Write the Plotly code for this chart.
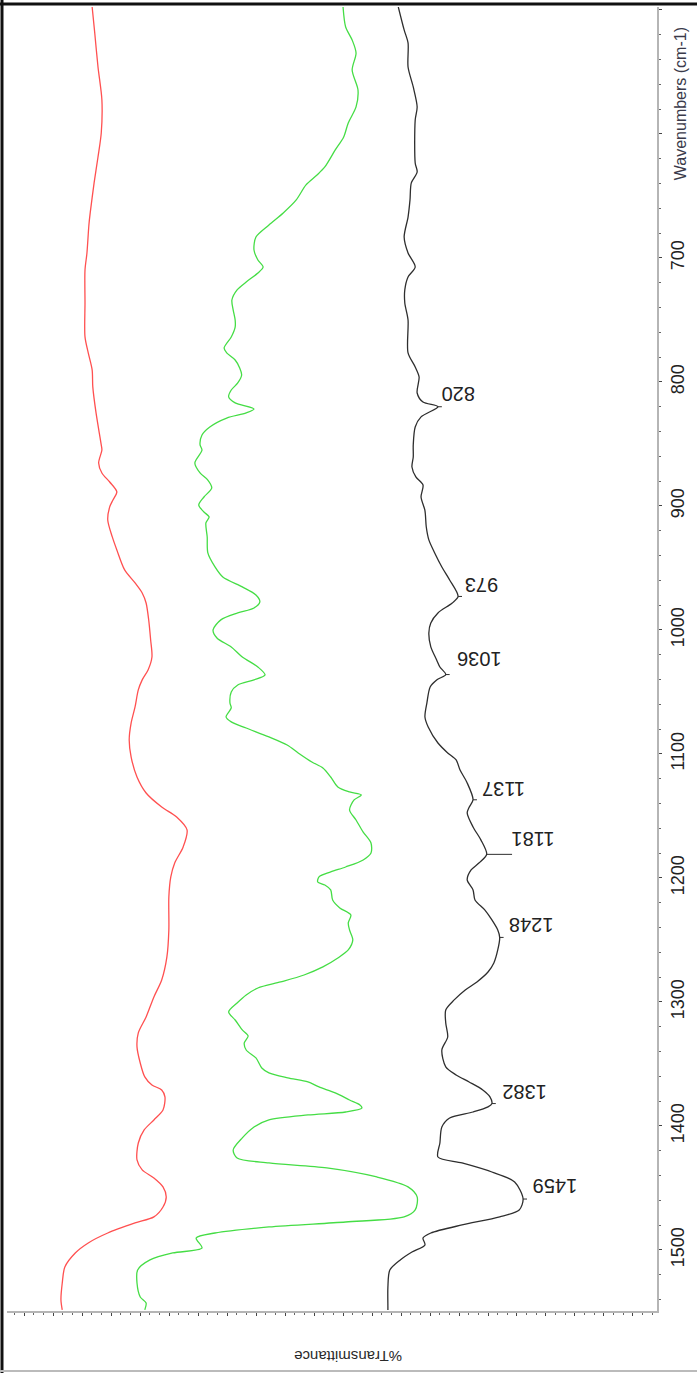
import numpy as np
import plotly.graph_objects as go

# FTIR spectra (wavenumber in cm-1, %T offset-stacked), drawn rotated:
# wavenumber runs vertically on the right, %T horizontally (increasing to the left)

red_wn = [497.6, 518.6, 546.0, 572.6, 599.2, 618.6, 639.5, 663.7, 673.4, 696.0,
          709.7, 736.3, 763.7, 776.6, 790.3, 804.0, 825.0, 850.8, 854.9, 865.3,
          873.4, 880.7, 888.7, 895.2, 900.8, 911.3, 925.0, 935.5, 951.6, 962.1,
          970.2, 978.3, 992.0, 1008.1, 1021.8, 1032.3, 1040.3, 1048.4, 1062.1, 1075.0,
          1088.7, 1102.5, 1118.6, 1131.5, 1142.8, 1150.9, 1161.3, 1175.0, 1188.0, 1199.2,
          1215.4, 1242.0, 1263.7, 1282.3, 1296.0, 1312.2, 1325.0, 1336.3, 1349.3, 1360.5,
          1367.0, 1371.0, 1376.6, 1387.2, 1395.2, 1403.3, 1413.8, 1427.5, 1435.5, 1442.0,
          1449.2, 1457.3, 1465.4, 1473.4, 1478.3, 1486.4, 1494.4, 1502.5, 1513.8, 1526.7,
          1540.4, 1548.4]
red_t = [86.9, 86.5, 86.0, 85.4, 85.5, 86.0, 86.6, 87.2, 87.4, 87.7,
         88.0, 88.0, 88.0, 87.5, 86.9, 86.8, 86.3, 85.5, 85.4, 85.9,
         85.4, 84.2, 83.1, 83.7, 84.2, 84.5, 83.8, 83.1, 81.9, 80.3,
         79.2, 78.6, 78.2, 77.9, 77.7, 78.3, 79.2, 79.8, 80.3, 80.9,
         81.2, 80.9, 80.0, 78.6, 76.2, 73.9, 72.3, 72.9, 74.2, 74.8,
         75.1, 75.1, 75.4, 76.2, 77.4, 78.6, 79.8, 80.0, 79.5, 78.8,
         77.7, 76.2, 75.7, 76.0, 77.4, 78.9, 79.8, 80.0, 79.2, 77.4,
         76.0, 75.5, 76.0, 77.4, 80.3, 84.5, 87.5, 89.5, 91.1, 91.5,
         91.7, 91.5]

green_wn = [497.6, 513.7, 524.2, 534.7, 548.4, 564.5, 578.2, 591.1, 602.4, 612.9,
            626.6, 633.1, 641.1, 653.2, 663.7, 673.4, 683.1, 693.6, 701.6, 707.3,
            712.1, 719.4, 725.8, 733.9, 742.0, 750.0, 755.7, 763.7, 772.6, 776.6,
            782.3, 788.7, 794.4, 800.8, 806.5, 812.1, 816.9, 821.8, 825.0, 829.1,
            836.3, 842.8, 850.8, 854.9, 865.3, 873.4, 879.1, 885.5, 892.8, 899.2,
            904.9, 908.9, 913.7, 925.0, 937.9, 949.2, 957.3, 965.3, 971.8, 977.4,
            982.3, 986.3, 991.9, 1000.0, 1006.5, 1013.7, 1021.8, 1029.9, 1036.3, 1040.3,
            1044.4, 1050.0, 1058.9, 1062.9, 1070.2, 1074.2, 1079.1, 1086.3, 1092.8, 1099.2,
            1106.5, 1111.3, 1118.6, 1126.7, 1130.7, 1133.1, 1137.1, 1145.2, 1153.3, 1163.0,
            1171.8, 1179.9, 1185.5, 1191.2, 1195.2, 1199.2, 1203.3, 1205.7, 1209.7, 1217.8,
            1224.2, 1229.9, 1236.3, 1242.0, 1250.0, 1258.1, 1264.6, 1271.8, 1278.3, 1283.9,
            1288.8, 1294.4, 1300.9, 1308.1, 1314.6, 1322.6, 1327.5, 1333.1, 1338.8, 1345.2,
            1353.3, 1357.3, 1361.3, 1364.6, 1368.6, 1373.4, 1379.1, 1383.1, 1385.6, 1388.8,
            1391.2, 1395.2, 1400.9, 1409.7, 1419.4, 1425.9, 1429.9, 1433.9, 1441.2, 1449.2,
            1457.3, 1467.8, 1473.4, 1477.5, 1481.5, 1486.4, 1490.4, 1498.5, 1502.5, 1508.1,
            1516.2, 1526.7, 1538.0, 1542.8, 1548.4]
green_t = [48.3, 47.9, 46.9, 46.3, 46.9, 46.0, 46.3, 47.5, 48.2, 49.5,
           51.1, 52.3, 54.0, 55.5, 57.5, 59.7, 61.7, 62.0, 61.4, 60.6,
           61.4, 63.2, 64.6, 65.4, 65.2, 64.9, 64.9, 65.5, 66.6, 66.2,
           64.9, 64.2, 63.9, 64.5, 65.5, 65.9, 64.9, 62.0, 63.2, 66.2,
           68.8, 70.0, 70.3, 70.0, 71.1, 70.3, 69.1, 68.5, 69.7, 70.5,
           69.7, 68.9, 69.4, 69.2, 69.1, 68.0, 66.8, 63.8, 61.7, 61.1,
           62.0, 64.5, 67.1, 68.3, 67.7, 65.5, 63.8, 61.4, 60.3, 62.0,
           64.5, 65.5, 65.7, 65.5, 66.3, 65.5, 63.2, 59.7, 56.9, 55.2,
           53.1, 51.4, 50.2, 49.1, 47.3, 45.5, 46.6, 47.3, 46.3, 45.2,
           44.0, 44.0, 45.2, 47.9, 50.2, 52.0, 52.2, 51.1, 50.2, 49.9,
           48.8, 47.1, 47.5, 47.3, 46.8, 47.5, 49.1, 51.4, 54.3, 57.9,
           61.4, 63.2, 64.6, 65.9, 64.9, 63.8, 62.9, 63.5, 63.2, 61.7,
           60.8, 59.7, 56.8, 53.7, 52.0, 49.5, 47.3, 45.7, 45.4, 47.9,
           53.7, 59.7, 62.0, 63.8, 65.2, 64.6, 59.7, 50.8, 43.1, 38.3,
           36.9, 37.2, 38.9, 47.9, 59.7, 68.0, 70.9, 70.0, 74.5, 78.0,
           79.9, 80.0, 79.5, 78.6, 78.8]

black_wn = [497.6, 516.1, 526.6, 546.0, 562.1, 578.2, 588.7, 623.4, 630.7, 639.5,
            653.2, 667.0, 683.1, 696.0, 707.3, 715.3, 725.8, 736.3, 750.0, 776.6,
            787.9, 796.0, 808.9, 816.2, 820.0, 828.2, 836.3, 850.8, 860.5, 868.6,
            876.6, 883.1, 892.8, 903.7, 916.8, 927.4, 937.9, 949.2, 959.7, 973.0,
            978.3, 986.3, 994.4, 1002.4, 1013.7, 1024.2, 1029.9, 1036.0, 1040.3, 1046.0,
            1058.9, 1070.2, 1078.3, 1091.2, 1099.2, 1104.9, 1113.0, 1123.4, 1137.0, 1143.0,
            1147.6, 1158.9, 1169.3, 1181.0, 1188.0, 1193.6, 1201.6, 1209.7, 1217.8, 1225.8,
            1233.9, 1242.0, 1248.0, 1258.1, 1268.6, 1275.9, 1283.9, 1290.4, 1298.4, 1306.5,
            1317.0, 1328.3, 1338.8, 1352.4, 1358.9, 1364.6, 1371.0, 1376.6, 1382.0, 1384.7,
            1388.8, 1393.6, 1400.9, 1413.8, 1425.1, 1429.9, 1437.2, 1445.2, 1459.0, 1467.8,
            1473.4, 1479.9, 1486.4, 1490.4, 1496.0, 1501.7, 1508.1, 1516.2, 1529.9, 1546.0,
            1548.4]
black_t = [39.8, 38.9, 38.3, 38.3, 37.5, 36.9, 37.2, 37.2, 36.9, 37.8,
           38.0, 38.3, 38.9, 38.3, 37.2, 38.3, 38.8, 38.8, 38.3, 38.3,
           37.2, 36.6, 36.9, 36.0, 33.7, 36.3, 37.2, 37.5, 37.5, 37.7,
           37.1, 36.0, 36.3, 35.7, 35.5, 35.1, 34.2, 33.1, 31.9, 30.6,
           31.5, 33.7, 34.8, 35.1, 34.8, 33.9, 33.4, 32.5, 33.9, 34.9,
           35.4, 35.7, 35.2, 33.7, 32.2, 30.9, 30.3, 29.2, 28.3, 28.9,
           29.2, 28.3, 27.1, 26.2, 27.4, 28.6, 29.2, 28.3, 28.0, 26.5,
           25.4, 24.5, 24.2, 24.5, 25.1, 26.0, 27.7, 29.5, 31.2, 32.5,
           32.5, 32.2, 33.1, 32.5, 30.9, 28.9, 26.8, 25.7, 25.4, 26.0,
           28.3, 31.9, 33.1, 33.4, 33.7, 30.0, 25.4, 21.9, 20.6, 21.2,
           24.2, 30.0, 34.8, 36.0, 35.7, 37.7, 39.5, 41.1, 41.4, 41.4,
           41.4]

# labelled peaks of the black spectrum
peak_wn = [820, 973, 1036, 1137, 1181, 1248, 1382, 1459]
peak_tick = [0.6, 0.6, 0.6, 0.6, 3.9, 0.6, 0.6, 0.6]
label_dx = [20, 24, 33, 31, 46, 31, 32, 32]
label_dy = [12, 12, 15, 11, 16, 13, 11, 13]

wn_ticks = [500, 600, 700, 800, 900, 1000, 1100, 1200, 1300, 1400, 1500]
wn_tick_text = ["", "", "700", "800", "900", "1000", "1100", "1200", "1300", "1400", "1500"]

fig = go.Figure()

for wn, t, col in [(red_wn, red_t, "#ff5050"),
                   (green_wn, green_t, "#45dd45"),
                   (black_wn, black_t, "#2e2e2e")]:
    fig.add_trace(go.Scatter(
        x=t, y=wn, mode="lines",
        line=dict(color=col, width=1.3, shape="spline", smoothing=0.8),
        hoverinfo="skip", showlegend=False))

# short marker lines at the labelled peaks
seg_x, seg_y = [], []
for p, ln in zip(peak_wn, peak_tick):
    t = float(np.interp(p, black_wn, black_t))
    seg_x += [t, t - ln, None]
    seg_y += [p, p, None]
fig.add_trace(go.Scatter(x=seg_x, y=seg_y, mode="lines",
                         line=dict(color="#2e2e2e", width=1),
                         hoverinfo="skip", showlegend=False))

annotations = []
for p, dx, dy in zip(peak_wn, label_dx, label_dy):
    t = float(np.interp(p, black_wn, black_t))
    annotations.append(dict(
        x=t, y=p, xref="x", yref="y", text=str(p), showarrow=False,
        textangle=180, xshift=dx, yshift=dy, xanchor="center", yanchor="middle",
        font=dict(family="Liberation Sans, Arial", size=20, color="#222222")))

annotations.append(dict(
    x=1.0365, y=0.926, xref="paper", yref="paper", text="Wavenumbers (cm-1)",
    showarrow=False, textangle=-90, xanchor="center", yanchor="middle",
    font=dict(family="Liberation Sans, Arial", size=16, color="#3a3a4a")))
annotations.append(dict(
    x=0.5246, y=-0.0353, xref="paper", yref="paper", text="%Transmittance",
    showarrow=False, textangle=180, xanchor="center", yanchor="middle",
    font=dict(family="Liberation Sans, Arial", size=15, color="#2a2a2a")))

# outer frame of the picture
shapes = [
    dict(type="line", xref="paper", yref="paper", x0=-0.011, x1=1.062, y0=1.0023, y1=1.0023,
         line=dict(color="#111111", width=3)),
    dict(type="line", xref="paper", yref="paper", x0=-0.0077, x1=-0.0077, y0=1.006, y1=-0.048,
         line=dict(color="#111111", width=3)),
    dict(type="line", xref="paper", yref="paper", x0=-0.011, x1=1.062, y0=-0.046, y1=-0.046,
         line=dict(color="#bbbbbb", width=2)),
]

fig.update_layout(
    width=697, height=1373,
    margin=dict(l=7, r=40, t=7, b=62),
    paper_bgcolor="white", plot_bgcolor="white",
    annotations=annotations, shapes=shapes,
    xaxis=dict(range=[100, 0], showgrid=False, zeroline=False,
               showline=True, linecolor="#b5b5b5", linewidth=2,
               ticks="outside", ticklen=3, tickcolor="#444444", tickwidth=1,
               tick0=3.7, dtick=4.46, showticklabels=False,
               minor=dict(ticks="outside", ticklen=2, tickcolor="#666666",
                          tick0=3.7, dtick=1.4867)),
    yaxis=dict(range=[1549.3, 497.6], side="right", showgrid=False, zeroline=False,
               showline=True, linecolor="#b5b5b5", linewidth=2,
               ticks="outside", ticklen=3, tickcolor="#444444", tickwidth=1,
               tickvals=wn_ticks, ticktext=wn_tick_text, tickangle=-90,
               tickfont=dict(family="Liberation Sans, Arial", size=18, color="#222222"),
               minor=dict(ticks="outside", ticklen=2, tickcolor="#666666",
                          tick0=500, dtick=20)),
)

fig.write_html("out.html")
